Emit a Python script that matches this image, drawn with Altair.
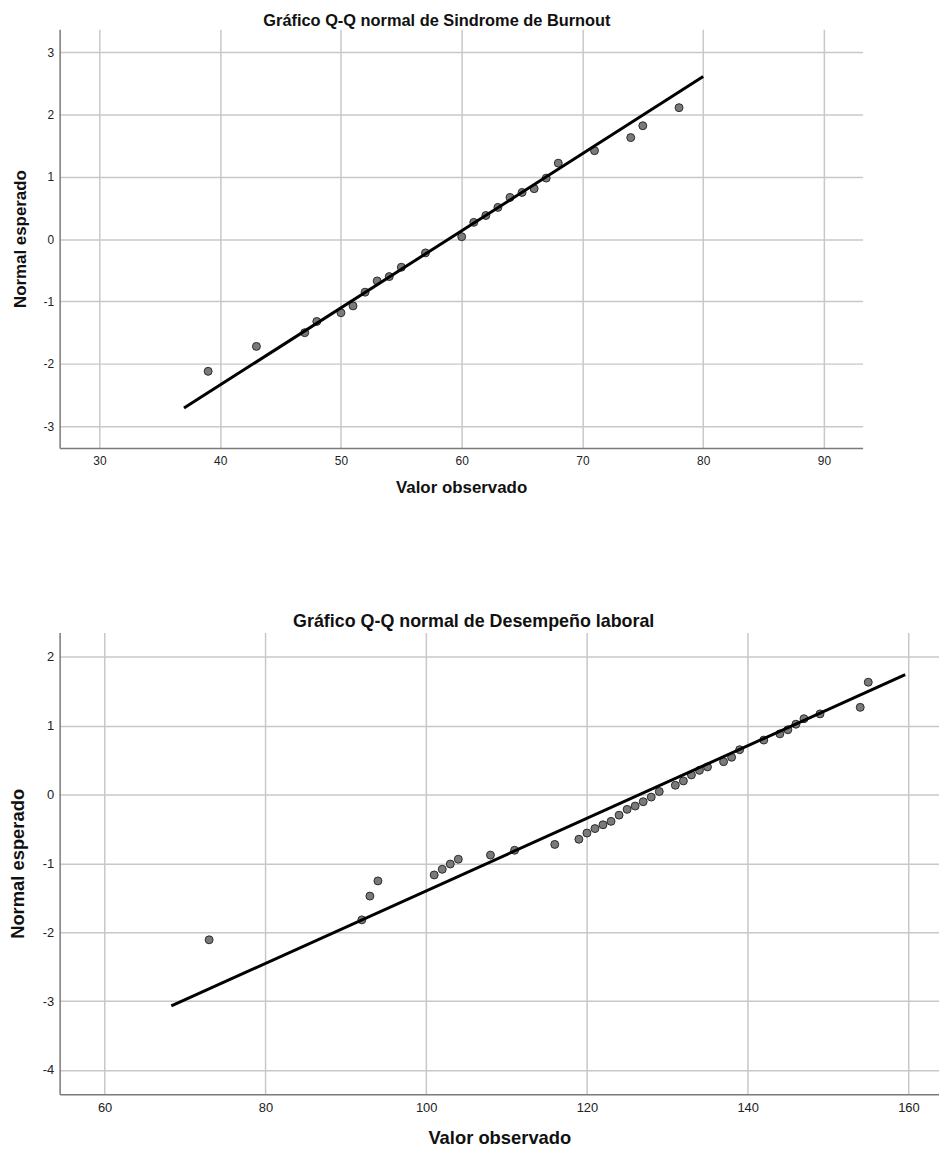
import altair as alt
import pandas as pd

# ---- Panel 1: Sindrome de Burnout ----
burnout_obs = [39, 43, 47, 48, 50, 51, 52, 53, 54, 55, 57, 60, 61, 62, 63, 64,
               65, 66, 67, 68, 71, 74, 75, 78]
burnout_exp = [-2.12, -1.72, -1.50, -1.32, -1.18, -1.07, -0.85, -0.67, -0.60,
               -0.45, -0.22, 0.04, 0.27, 0.38, 0.51, 0.67, 0.75, 0.81, 0.98,
               1.22, 1.42, 1.63, 1.82, 2.11]
burnout_line_x = [37, 80]
burnout_line_y = [-2.71, 2.61]
burnout_xticks = [30, 40, 50, 60, 70, 80, 90]
burnout_yticks = [-3, -2, -1, 0, 1, 2, 3]

# ---- Panel 2: Desempeño laboral ----
desemp_obs = [73, 92, 93, 94, 101, 102, 103, 104, 108, 111, 116, 119, 120, 121,
              122, 123, 124, 125, 126, 127, 128, 129, 131, 132, 133, 134, 135,
              137, 138, 139, 142, 144, 145, 146, 147, 149, 154, 155]
desemp_exp = [-2.11, -1.82, -1.475, -1.255, -1.168, -1.086, -1.01, -0.94, -0.88,
              -0.81, -0.725, -0.65, -0.56, -0.495, -0.44, -0.39, -0.30, -0.216,
              -0.168, -0.105, -0.038, 0.043, 0.134, 0.197, 0.284, 0.35, 0.40,
              0.476, 0.54, 0.65, 0.79, 0.88, 0.94, 1.02, 1.10, 1.17, 1.265, 1.63]
desemp_line_x = [68.3, 159.6]
desemp_line_y = [-3.07, 1.74]
desemp_xticks = [60, 80, 100, 120, 140, 160]
desemp_yticks = [-4, -3, -2, -1, 0, 1, 2]

FONT = "Liberation Sans Narrow, Liberation Sans, Arial, sans-serif"
FONT_B = "Liberation Sans, Arial, sans-serif"


def panel(obs, exp, lx, ly, title, xdom, ydom, xticks, yticks, w, h,
          title_size, axis_title_size, label_size, title_offset,
          x_title_pad, y_title_pad):
    pts = pd.DataFrame({"x": obs, "y": exp})
    ln = pd.DataFrame({"x": lx, "y": ly})
    xaxis = alt.Axis(values=xticks, grid=True, gridColor="#c8c8c8",
                     gridWidth=1.5, ticks=False, domainColor="#7a7a7a",
                     domainWidth=1.5, labelFont=FONT, labelFontSize=label_size,
                     labelColor="#222222", labelPadding=8,
                     labelExpr="datum.value + ''",
                     title="Valor observado", titleFont=FONT_B,
                     titleFontSize=axis_title_size, titleFontWeight="bold",
                     titleColor="#111111", titlePadding=x_title_pad)
    yaxis = alt.Axis(values=yticks, grid=True, gridColor="#c8c8c8",
                     gridWidth=1.5, ticks=False, domainColor="#7a7a7a",
                     domainWidth=1.5, labelFont=FONT, labelFontSize=label_size,
                     labelColor="#222222", labelPadding=6,
                     labelExpr="datum.value + ''",
                     title="Normal esperado", titleFont=FONT_B,
                     titleFontSize=axis_title_size, titleFontWeight="bold",
                     titleColor="#111111", titlePadding=y_title_pad)
    xs = alt.Scale(domain=xdom, nice=False, zero=False)
    ys = alt.Scale(domain=ydom, nice=False, zero=False)
    line = alt.Chart(ln).mark_line(color="black", strokeWidth=3).encode(
        x=alt.X("x:Q", scale=xs, axis=xaxis),
        y=alt.Y("y:Q", scale=ys, axis=yaxis),
    )
    dots = alt.Chart(pts).mark_point(
        filled=True, fill="#7a7a7a", stroke="#2a2a2a", strokeWidth=1,
        opacity=1, size=64, shape="circle"
    ).encode(
        x=alt.X("x:Q", scale=xs, axis=xaxis),
        y=alt.Y("y:Q", scale=ys, axis=yaxis),
    )
    return alt.layer(dots, line).properties(
        width=w, height=h,
        title=alt.TitleParams(title, font=FONT_B, fontSize=title_size,
                              fontWeight="bold", color="#111111",
                              offset=title_offset, frame="bounds",
                              anchor="middle"),
    )


top = panel(burnout_obs, burnout_exp, burnout_line_x, burnout_line_y,
            "Gráfico Q-Q normal de Sindrome de Burnout",
            [26.7, 93.2], [-3.35, 3.37], burnout_xticks, burnout_yticks,
            809, 422, 16.5, 17, 12, 0, 13, 14)
bottom = panel(desemp_obs, desemp_exp, desemp_line_x, desemp_line_y,
               "Gráfico Q-Q normal de Desempeño laboral",
               [54.4, 163.8], [-4.35, 2.35], desemp_xticks, desemp_yticks,
               886, 465, 18, 18.5, 13, 2, 14, 15)

chart = alt.vconcat(top, bottom, spacing=118).properties(
    padding={"top": 0, "left": 0, "right": 0, "bottom": 0},
    background="white",
).configure_view(strokeWidth=0, stroke="transparent")

chart.save("out.html", embed_options={"renderer": "svg", "actions": False})
